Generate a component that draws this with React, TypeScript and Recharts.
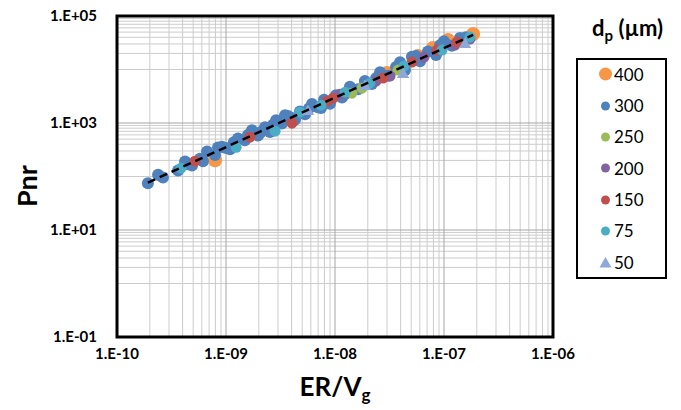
import React from 'react';
import { ScatterChart, Scatter, XAxis, YAxis, CartesianGrid, ReferenceArea, Label } from 'recharts';

// ---- data (ER/Vg, Pnr) per particle diameter ----
const s400 = [
  { x: 7.93e-10, y: 201 }, { x: 3.0e-8, y: 8570 }, { x: 5.77e-8, y: 17800 },
  { x: 7.93e-8, y: 25200 }, { x: 1.09e-7, y: 35500 }, { x: 1.85e-7, y: 46000 },
];
const s300 = [
  { x: 1.92e-10, y: 75 }, { x: 2.38e-10, y: 108 }, { x: 2.64e-10, y: 96 }, { x: 3.63e-10, y: 129 },
  { x: 4.21e-10, y: 190 }, { x: 4.48e-10, y: 170 }, { x: 4.88e-10, y: 161 }, { x: 5.77e-10, y: 214 },
  { x: 6.15e-10, y: 192 }, { x: 6.7e-10, y: 292 }, { x: 7.93e-10, y: 253 }, { x: 8.45e-10, y: 348 },
  { x: 9.19e-10, y: 358 }, { x: 1.0e-9, y: 342 }, { x: 1.09e-9, y: 324 }, { x: 1.18e-9, y: 435 },
  { x: 1.29e-9, y: 513 }, { x: 1.49e-9, y: 474 }, { x: 1.59e-9, y: 596 }, { x: 1.73e-9, y: 733 },
  { x: 1.97e-9, y: 583 }, { x: 2.09e-9, y: 676 }, { x: 2.28e-9, y: 830 }, { x: 2.53e-9, y: 678 },
  { x: 2.7e-9, y: 929 }, { x: 2.88e-9, y: 1125 }, { x: 3.26e-9, y: 975 }, { x: 3.48e-9, y: 1393 },
  { x: 3.71e-9, y: 1358 }, { x: 4.03e-9, y: 1236 }, { x: 4.3e-9, y: 1148 }, { x: 4.77e-9, y: 1641 },
  { x: 5.31e-9, y: 1462 }, { x: 5.77e-9, y: 1877 }, { x: 6.15e-9, y: 2259 }, { x: 6.98e-9, y: 1959 },
  { x: 7.44e-9, y: 1910 }, { x: 7.93e-9, y: 2730 }, { x: 9.0e-9, y: 2280 }, { x: 1.02e-8, y: 3316 },
  { x: 1.16e-8, y: 3004 }, { x: 1.26e-8, y: 3540 }, { x: 1.37e-8, y: 4742 }, { x: 1.63e-8, y: 4276 },
  { x: 1.88e-8, y: 6095 }, { x: 2.18e-8, y: 5370 }, { x: 2.38e-8, y: 6900 }, { x: 2.59e-8, y: 8872 },
  { x: 3.06e-8, y: 7656 }, { x: 3.63e-8, y: 11140 }, { x: 3.95e-8, y: 13700 }, { x: 4.39e-8, y: 9790 },
  { x: 5.08e-8, y: 17300 }, { x: 5.53e-8, y: 17900 }, { x: 6.03e-8, y: 14290 }, { x: 7.13e-8, y: 21630 },
  { x: 8.45e-8, y: 18700 }, { x: 9.19e-8, y: 28500 }, { x: 1.0e-7, y: 33600 }, { x: 1.18e-7, y: 27900 },
  { x: 1.4e-7, y: 38700 }, { x: 1.59e-7, y: 39900 },
];
const s250 = [{ x: 1.43e-8, y: 3610 }, { x: 1.77e-8, y: 4480 }, { x: 3.78e-8, y: 9750 }];
const s200 = [
  { x: 1.11e-8, y: 3460 }, { x: 2.38e-8, y: 6070 }, { x: 3.2e-8, y: 7520 },
  { x: 6.56e-8, y: 17100 }, { x: 1.26e-7, y: 28600 }, { x: 1.73e-7, y: 37100 },
];
const s150 = [
  { x: 5.19e-10, y: 193 }, { x: 1.66e-9, y: 542 }, { x: 4.03e-9, y: 991 }, { x: 8.45e-9, y: 2560 },
  { x: 9.59e-9, y: 2910 }, { x: 2.76e-8, y: 6900 }, { x: 5.08e-8, y: 13760 }, { x: 8.63e-8, y: 23100 },
  { x: 1.32e-7, y: 32600 },
];
const s75 = [
  { x: 3.86e-10, y: 143 }, { x: 1.24e-9, y: 352 }, { x: 2.82e-9, y: 702 }, { x: 4.77e-9, y: 1590 },
  { x: 7.44e-9, y: 2150 }, { x: 1.24e-8, y: 3770 }, { x: 2.09e-8, y: 5560 }, { x: 4.3e-8, y: 11580 },
  { x: 9.59e-8, y: 23100 }, { x: 1.73e-7, y: 40400 },
];
const s50 = [{ x: 5.65e-9, y: 1660 }, { x: 1.88e-8, y: 4890 }, { x: 4.21e-8, y: 8200 }, { x: 1.56e-7, y: 29900 }];
const trend = [{ x: 1.92e-10, y: 77 }, { x: 1.85e-7, y: 44300 }];

const xTicks = [1e-10, 1e-9, 1e-8, 1e-7, 1e-6];
const xTickLabels = ['1.E-10', '1.E-09', '1.E-08', '1.E-07', '1.E-06'];
const yTicks = [0.1, 10, 1000, 100000];
const yTickLabels = ['1.E-01', '1.E+01', '1.E+03', '1.E+05'];
const xDecades = [1e-10, 1e-9, 1e-8, 1e-7];
const yMinorDecades = [1, 100, 10000];
const multipliers = [2, 3, 4, 5, 6, 7, 8, 9];
const yMultipliers = [1, 2, 3, 4, 5, 6, 7, 8, 9];

const xMinor = xDecades.flatMap((d) => multipliers.map((m) => m * d));
const yMinor = yMinorDecades.flatMap((d) => yMultipliers.map((m) => m * d));

const legendItems = [
  { label: '400', color: '#F79646', r: 6.5, tri: false },
  { label: '300', color: '#4F81BD', r: 4.5, tri: false },
  { label: '250', color: '#9BBB59', r: 4.5, tri: false },
  { label: '200', color: '#8064A2', r: 4.5, tri: false },
  { label: '150', color: '#C0504D', r: 4.5, tri: false },
  { label: '75', color: '#4BACC6', r: 4.5, tri: false },
  { label: '50', color: '#8EA9D8', r: 5.5, tri: true },
];

const FONT = 'Lato, "Open Sans", sans-serif';

const dot = (color: string, r: number) => (p: any) => <circle cx={p.cx} cy={p.cy} r={r} fill={color} />;
const tri = (color: string, s: number) => (p: any) => (
  <polygon
    points={`${p.cx},${p.cy - s} ${p.cx + s * 0.95},${p.cy + s * 0.6} ${p.cx - s * 0.95},${p.cy + s * 0.6}`}
    fill={color}
  />
);
const noShape = () => <g />;

const fmtX = (v: number) => xTickLabels[xTicks.indexOf(v)] ?? '';
const fmtY = (v: number) => yTickLabels[yTicks.indexOf(v)] ?? '';

const tickStyle = { fill: '#000', fontSize: 15, fontWeight: 700, fontFamily: FONT };

const XTitle = (props: any) => {
  const vb = props.viewBox;
  return (
    <text x={vb.x + vb.width / 2} y={396} textAnchor="middle" fontFamily={FONT} fontWeight={700} fontSize={26} fill="#000">
      ER/V<tspan fontSize={17} dy={5}>g</tspan>
    </text>
  );
};
const YTitle = () => {
  return (
    <text x={0} y={0} transform={`translate(37,186) rotate(-90)`} textAnchor="middle" fontFamily={FONT} fontWeight={700} fontSize={27} fill="#000">
      Pnr
    </text>
  );
};

export default function App() {
  return (
    <div style={{ position: 'absolute', left: 0, top: 0, width: 681, height: 410, background: '#fff' }}>
      <ScatterChart width={681} height={410} margin={{ top: 16, right: 128, bottom: 33, left: 17 }}>
        <CartesianGrid stroke="#cccccc" strokeWidth={1} verticalValues={xMinor} horizontalValues={yMinor} />
        <CartesianGrid stroke="#a6a6a6" strokeWidth={1} verticalValues={xTicks} horizontalValues={yTicks} />
        <XAxis
          type="number"
          dataKey="x"
          scale="log"
          domain={[1e-10, 1e-6]}
          ticks={xTicks}
          tickFormatter={fmtX}
          allowDataOverflow
          axisLine={false}
          tickLine={false}
          tickSize={0}
          tickMargin={11}
          height={40}
          tick={tickStyle}
          interval={0}
        >
          <Label content={<XTitle />} />
        </XAxis>
        <YAxis
          type="number"
          dataKey="y"
          scale="log"
          domain={[0.1, 100000]}
          ticks={yTicks}
          tickFormatter={fmtY}
          allowDataOverflow
          axisLine={false}
          tickLine={false}
          tickSize={0}
          tickMargin={20}
          width={100}
          tick={tickStyle}
          interval={0}
        >
          <Label content={<YTitle />} />
        </YAxis>
        <Scatter data={s400} fill="#F79646" shape={dot('#F79646', 7)} isAnimationActive={false} />
        <Scatter data={s300} fill="#4F81BD" shape={dot('#4F81BD', 6)} isAnimationActive={false} />
        <Scatter data={s250} fill="#9BBB59" shape={dot('#9BBB59', 5.5)} isAnimationActive={false} />
        <Scatter data={s200} fill="#8064A2" shape={dot('#8064A2', 5.5)} isAnimationActive={false} />
        <Scatter data={s150} fill="#C0504D" shape={dot('#C0504D', 5.5)} isAnimationActive={false} />
        <Scatter data={s75} fill="#4BACC6" shape={dot('#4BACC6', 5.5)} isAnimationActive={false} />
        <Scatter data={s50} fill="#8EA9D8" shape={tri('#8EA9D8', 6.5)} isAnimationActive={false} />
        <Scatter
          data={trend}
          shape={noShape}
          line={{ stroke: '#000', strokeWidth: 2.5, strokeDasharray: '8 5' }}
          isAnimationActive={false}
        />
        <ReferenceArea x1={1e-10} x2={1e-6} y1={0.1} y2={100000} fill="none" fillOpacity={0} stroke="#000" strokeWidth={3} ifOverflow="visible" />
      </ScatterChart>
      <div
        style={{
          position: 'absolute', left: 576, top: 14, width: 100, textAlign: 'left',
          fontFamily: FONT, fontWeight: 700, fontSize: 22, color: '#000', paddingLeft: 16, lineHeight: '28px',
        }}
      >
        d<sub style={{ fontSize: 15, verticalAlign: '-5px' }}>p</sub> (µm)
      </div>
      <div
        style={{
          position: 'absolute', left: 576, top: 58, width: 91, height: 221, boxSizing: 'border-box',
          border: '2.5px solid #000', paddingTop: 0, background: '#fff',
        }}
      >
        {legendItems.map((it) => (
          <div key={it.label} style={{ height: 31.4, position: 'relative', top: -1.5 }}>
            <svg width={40} height={20} style={{ position: 'absolute', left: 17, top: 5.7 }}>
              {it.tri ? (
                <polygon points="10.5,4 16.5,14.5 4.5,14.5" fill={it.color} />
              ) : (
                <circle cx={10.5} cy={10} r={it.r} fill={it.color} />
              )}
            </svg>
            <span
              style={{ position: 'absolute', left: 36, top: 0, fontFamily: FONT, fontSize: 17, color: '#000', lineHeight: '31px' }}
            >
              {it.label}
            </span>
          </div>
        ))}
      </div>
    </div>
  );
}
